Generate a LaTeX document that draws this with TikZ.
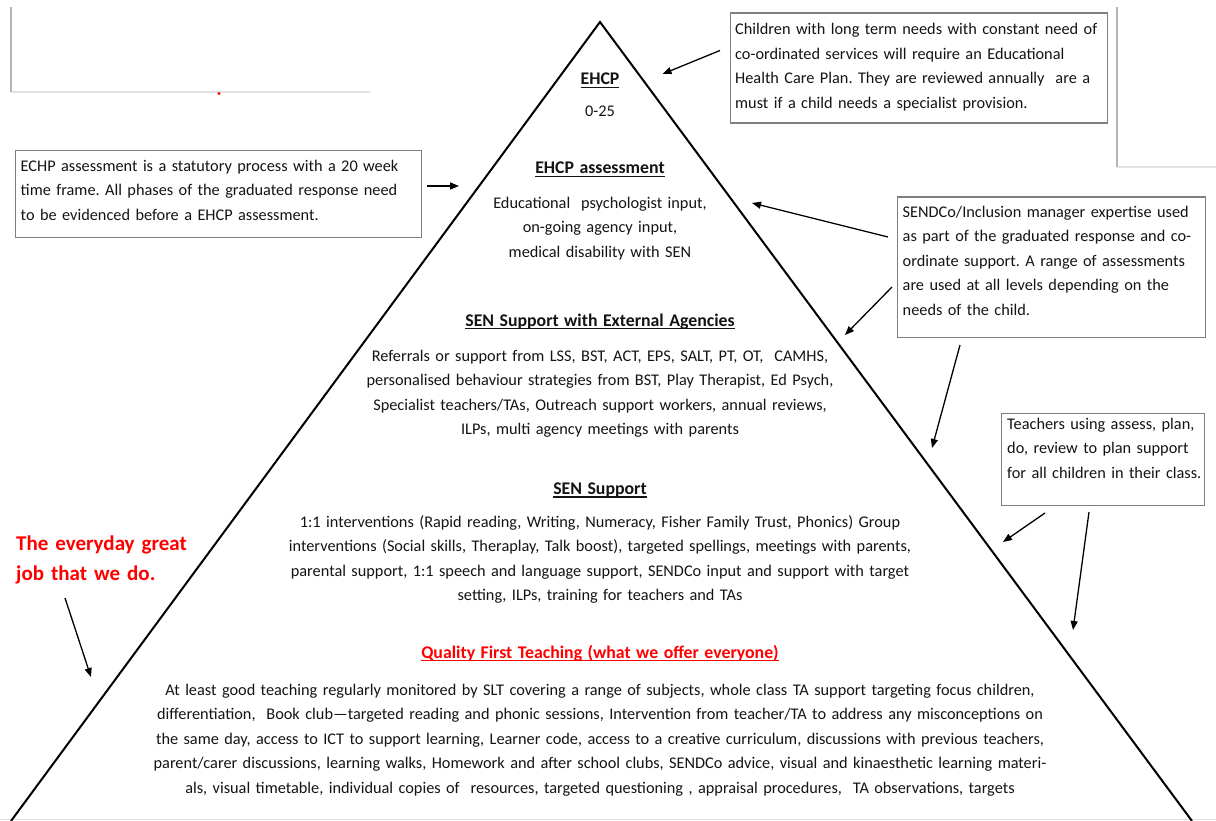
\documentclass[tikz,border=0pt]{standalone}
\usepackage{fontspec}
\setmainfont{Carlito}
\usetikzlibrary{arrows.meta}
\definecolor{boxgray}{HTML}{7F7F7F}
\definecolor{fragdark}{HTML}{B4B4B4}
\definecolor{fraglight}{HTML}{E2E2E2}
\definecolor{txt}{HTML}{141414}
\definecolor{hired}{HTML}{FF0000}
\frenchspacing
\newcommand\myul[1]{\setbox0\hbox{#1}\rlap{\rule[-3pt]{\wd0}{1.1pt}}\box0}
\newcommand\hdfont{\fontsize{17.8}{24.5}\selectfont\bfseries}
\tikzset{
  notebox/.style={draw=boxgray, line width=1.4pt, anchor=north west, inner sep=0pt},
  notetext/.style={anchor=base west, inner sep=0pt, text width=420pt, align=left, text=txt,
    font=\fontsize{16.3}{24.5}\selectfont},
  ptext/.style={anchor=base, inner sep=0pt, text width=1150pt, align=center, text=txt,
    font=\fontsize{16.3}{24.5}\selectfont},
  arr/.style={-{Triangle[length=9pt,width=7pt]}, line width=1.3pt, draw=black},
}
\begin{document}
\begin{tikzpicture}[x=1pt,y=-1pt]
\useasboundingbox (0,0) rectangle (1216,821);
\fill[white] (0,0) rectangle (1216,821);

% screenshot fragments
\draw[fraglight, line width=1.5pt] (11,92) -- (370,92);
\draw[fragdark, line width=2pt] (11,7) -- (11,92);
\fill[red] (219,93.5) circle (1.6);
\draw[fraglight, line width=1.5pt] (1117,167) -- (1216,167);
\draw[fragdark, line width=2pt] (1117,7) -- (1117,167);
\draw[fraglight, line width=1.2pt] (0,819.5) -- (1216,819.5);

% pyramid
\draw[line width=2pt, line join=miter] (11,821) -- (600,22) -- (1192,821);

% pyramid text
\node[ptext] (ehcp) at (600,85) {\hdfont\myul{EHCP}};
\node[ptext] (age) at (600,117) {0-25};
\node[ptext] (ass) at (600,174) {\hdfont\myul{EHCP assessment}};
\node[ptext] (asstxt) at (600,208.5) {Educational\ \ psychologist input,\\ on-going agency input,\\ medical disability with SEN};
\node[ptext] (ext) at (600,326) {\hdfont\myul{SEN Support with External Agencies}};
\node[ptext] (exttxt) at (600,361) {Referrals or support from LSS, BST, ACT, EPS, SALT, PT, OT,\ \ CAMHS,\\ personalised behaviour strategies from BST, Play Therapist, Ed Psych,\\ Specialist teachers/TAs, Outreach support workers, annual reviews,\\ ILPs, multi agency meetings with parents};
\node[ptext] (sen) at (600,494.5) {\hdfont\myul{SEN Support}};
\node[ptext] (sentxt) at (600,527) {1:1 interventions (Rapid reading, Writing, Numeracy, Fisher Family Trust, Phonics) Group\\ interventions (Social skills, Theraplay, Talk boost), targeted spellings, meetings with parents,\\ parental support, 1:1 speech and language support, SENDCo input and support with target\\ setting, ILPs, training for teachers and TAs};
\node[ptext, text=hired] (qft) at (600,658) {\hdfont\myul{Quality First Teaching (what we offer everyone)}};
\node[ptext] (qfttxt) at (600,695) {At least good teaching regularly monitored by SLT covering a range of subjects, whole class TA support targeting focus children,\\ differentiation,\ \ Book club—targeted reading and phonic sessions, Intervention from teacher/TA to address any misconceptions on\\ the same day, access to ICT to support learning, Learner code, access to a creative curriculum, discussions with previous teachers,\\ parent/carer discussions, learning walks, Homework and after school clubs, SENDCo advice, visual and kinaesthetic learning materi-\\ als, visual timetable, individual copies of\ \ resources, targeted questioning , appraisal procedures,\ \ TA observations, targets};

% note boxes
\node[notebox, minimum width=377pt, minimum height=110pt] (boxA) at (730,12.5) {};
\node[notetext] (boxAtxt) at (735,35) {Children with long term needs with constant need of\\ co-ordinated services will require an Educational\\ Health Care Plan. They are reviewed annually\ \ are a\\ must if a child needs a specialist provision.};

\node[notebox, minimum width=406pt, minimum height=87pt] (boxB) at (15,150) {};
\node[notetext] (boxBtxt) at (20.5,171.5) {ECHP assessment is a statutory process with a 20 week\\ time frame. All phases of the graduated response need\\ to be evidenced before a EHCP assessment.};

\node[notebox, minimum width=308pt, minimum height=140pt] (boxC) at (897,196.5) {};
\node[notetext] (boxCtxt) at (902.5,217.5) {SENDCo/Inclusion manager expertise used\\ as part of the graduated response and co-\\ ordinate support. A range of assessments\\ are used at all levels depending on the\\ needs of the child.};

\node[notebox, minimum width=203pt, minimum height=92pt] (boxD) at (1001,413) {};
\node[notetext] (boxDtxt) at (1007,429) {Teachers using assess, plan,\\ do, review to plan support\\ for all children in their class.};

\node[anchor=base west, inner sep=0pt, text width=220pt, align=left, text=hired,
  font=\fontsize{21}{30}\selectfont\bfseries] (everyday) at (16,550) {The everyday great\\ job that we do.};

% arrow end points
\coordinate (a1s) at (720,50.5);  \coordinate (a1e) at (662.5,74);
\coordinate (a2s) at (427,186);   \coordinate (a2e) at (459,186);
\coordinate (a3s) at (888,237);   \coordinate (a3e) at (752,203);
\coordinate (a4s) at (892,287);   \coordinate (a4e) at (845,335);
\coordinate (a5s) at (960,345);   \coordinate (a5e) at (932,448);
\coordinate (a6s) at (1045,513);  \coordinate (a6e) at (1003,542);
\coordinate (a7s) at (1089,512);  \coordinate (a7e) at (1073,630);
\coordinate (a8s) at (65,598);    \coordinate (a8e) at (91,677);

\draw[arr] (a1s) -- (a1e);
\draw[arr] (a2s) -- (a2e);
\draw[arr] (a3s) -- (a3e);
\draw[arr] (a4s) -- (a4e);
\draw[arr] (a5s) -- (a5e);
\draw[arr] (a6s) -- (a6e);
\draw[arr] (a7s) -- (a7e);
\draw[arr] (a8s) -- (a8e);
\end{tikzpicture}
\end{document}
